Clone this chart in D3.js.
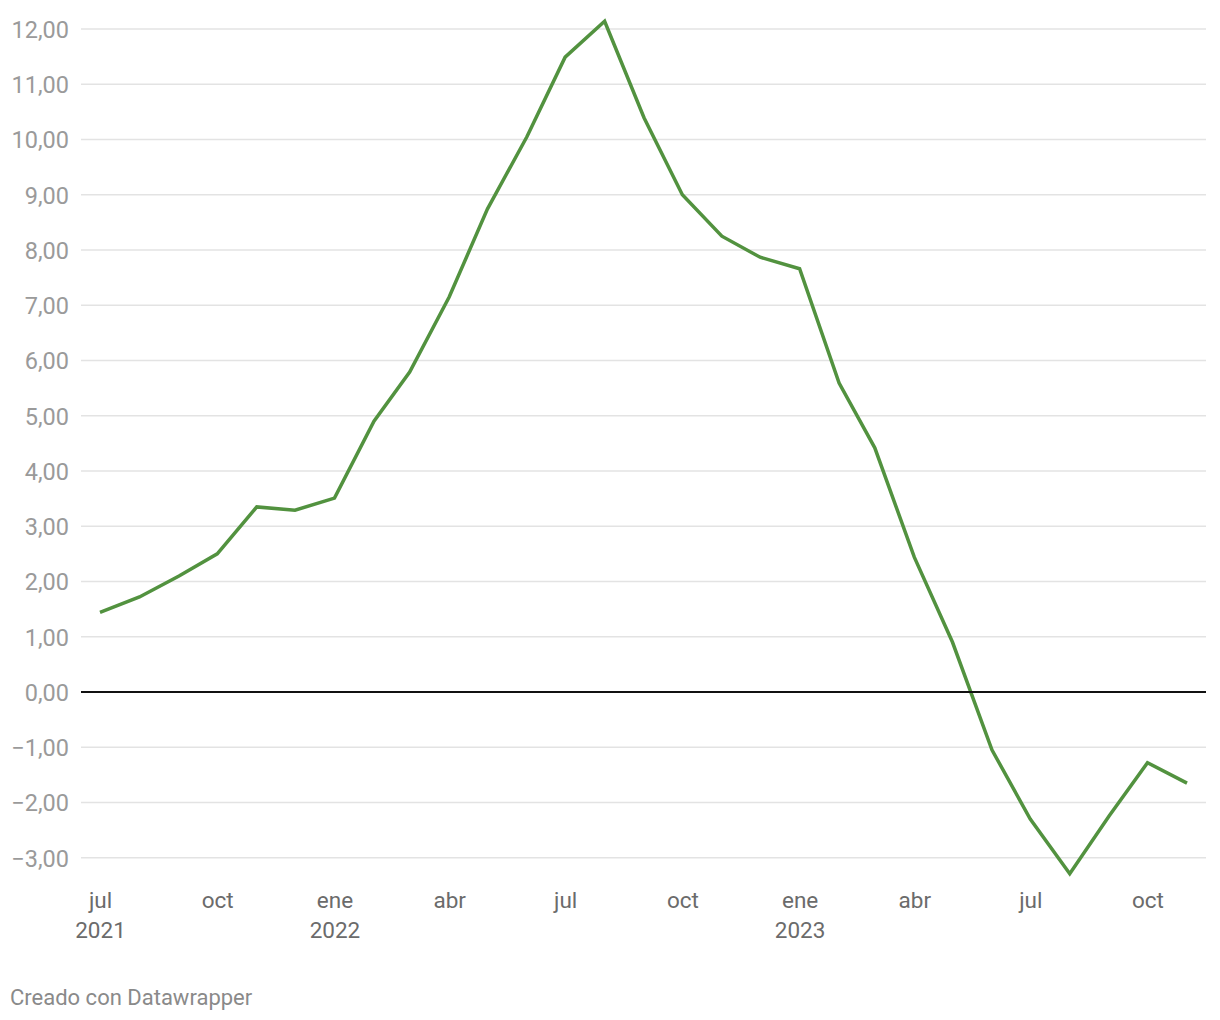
<!DOCTYPE html>
<html><head><meta charset="utf-8">
<script src="https://cdn.jsdelivr.net/npm/d3@7"></script>
<style>
body{margin:0;background:#fff;font-family:Roboto,"Noto Sans",sans-serif;}
</style></head><body>
<svg id="c" width="1220" height="1020"></svg>
<script>
const months = ["2021-07","2021-08","2021-09","2021-10","2021-11","2021-12",
"2022-01","2022-02","2022-03","2022-04","2022-05","2022-06","2022-07","2022-08","2022-09","2022-10","2022-11","2022-12",
"2023-01","2023-02","2023-03","2023-04","2023-05","2023-06","2023-07","2023-08","2023-09","2023-10","2023-11"];
const values = [1.44,1.72,2.10,2.50,3.35,3.29,3.51,4.90,5.79,7.15,8.74,10.05,11.49,12.14,10.39,9.00,8.25,7.87,7.66,5.59,4.42,2.44,0.90,-1.05,-2.30,-3.29,-2.24,-1.28,-1.65];
const yTicks = [-3,-2,-1,0,1,2,3,4,5,6,7,8,9,10,11,12];
const xTicks = ["2021-07","2021-10","2022-01","2022-04","2022-07","2022-10","2023-01","2023-04","2023-07","2023-10"];
const monthNames = ["ene","feb","mar","abr","may","jun","jul","ago","sep","oct","nov","dic"];
const footer = "Creado con Datawrapper";

const parse = d3.timeParse("%Y-%m");
const data = months.map((m,i)=>({date:parse(m), v:values[i]}));
const svg = d3.select("#c");
const x = d3.scaleTime().domain([parse(months[0]), parse(months[months.length-1])]).range([100,1187]);
const y = d3.scaleLinear().domain([0,12]).range([692,29]);

// y axis labels
const yAxis = d3.axisLeft(y).tickValues(yTicks).tickSize(0).tickPadding(0)
  .tickFormat(d => d3.format(".2f")(d).replace(".",",").replace("-","\u2212"));
const gy = svg.append("g").attr("transform","translate(81,0)").call(yAxis);
gy.select(".domain").remove();
gy.selectAll(".tick line").remove();
gy.selectAll(".tick text").attr("x",-12).attr("dy","0.36em")
  .style("font-family","Roboto,sans-serif").style("font-size","23.5px").attr("fill","#9a9a9a");
svg.append("g").selectAll("line").data(yTicks.filter(d=>d!==0)).join("line")
  .attr("x1",81).attr("x2",1206).attr("y1",d=>y(d)).attr("y2",d=>y(d))
  .attr("stroke","#e3e3e3").attr("stroke-width",1.5);

// x axis labels
const xAxis = d3.axisBottom(x).tickValues(xTicks.map(parse)).tickSize(0).tickPadding(0).tickFormat("");
const gx = svg.append("g").attr("transform","translate(0,889)").call(xAxis);
gx.select(".domain").remove();
gx.selectAll(".tick").each(function(d){
  const t = d3.select(this).append("text").attr("text-anchor","middle")
    .style("font-family","Roboto,sans-serif").style("font-size","22.5px").attr("fill","#6b6b6b");
  t.append("tspan").attr("x",0).attr("y",19).text(monthNames[d.getMonth()]);
  if (d.getMonth()===0 || +d===+x.domain()[0]) t.append("tspan").attr("x",0).attr("y",49).text(d.getFullYear());
});

// line
svg.append("path").datum(data)
  .attr("d", d3.line().x(d=>x(d.date)).y(d=>y(d.v)))
  .attr("fill","none").attr("stroke","#52923f").attr("stroke-width",3.5)
  .attr("stroke-linejoin","miter").attr("stroke-linecap","butt");

// zero line
svg.append("line").attr("x1",81).attr("x2",1206).attr("y1",y(0)).attr("y2",y(0))
  .attr("stroke","#111").attr("stroke-width",2);

svg.append("text").attr("x",10).attr("y",1005).text(footer)
  .style("font-family","Roboto,sans-serif").style("font-size","22px").attr("fill","#8a8a8a");
</script></body></html>
